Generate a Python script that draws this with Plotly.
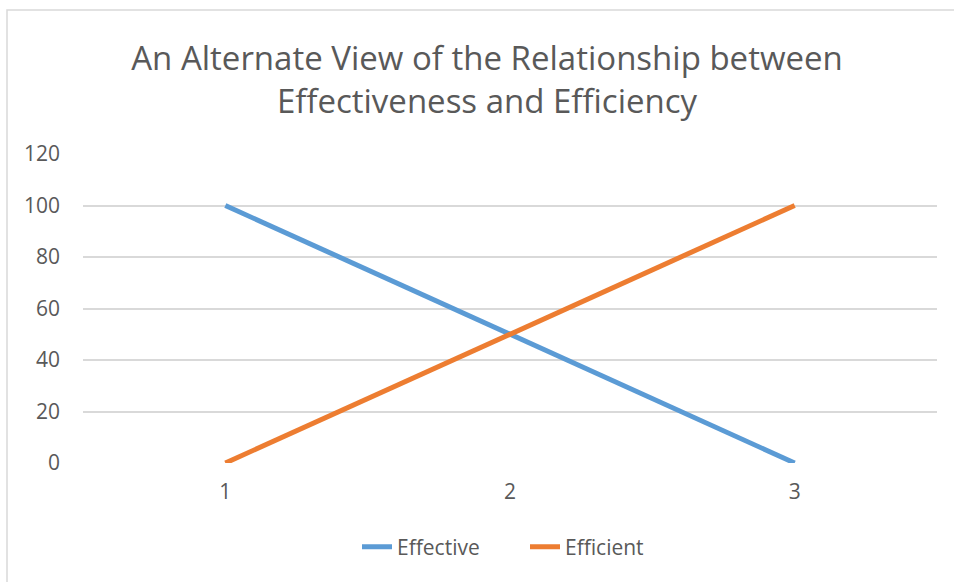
import plotly.graph_objects as go

categories = ["1", "2", "3"]
effective = [100, 50, 0]
efficient = [0, 50, 100]
y_ticks = [0, 20, 40, 60, 80, 100, 120]
title_text = "An Alternate View of the Relationship between<br>Effectiveness and Efficiency"

FONT = "'Open Sans', sans-serif"
GRAY = "#595959"

fig = go.Figure()
fig.add_trace(go.Scatter(x=categories, y=effective, mode="lines", name="Effective",
                         line=dict(color="#5B9BD5", width=5)))
fig.add_trace(go.Scatter(x=categories, y=efficient, mode="lines", name="Efficient",
                         line=dict(color="#ED7D31", width=5)))

W, H = 954, 582
L, R, T, B = 83, 17, 154, 119
pw, ph = W - L - R, H - T - B

fig.update_layout(
    width=W, height=H,
    margin=dict(l=L, r=R, t=T, b=B),
    paper_bgcolor="white", plot_bgcolor="white",
    font=dict(family=FONT, color=GRAY, size=21),
    title=dict(text=title_text, x=487 / W, xanchor="center", xref="container",
               y=1 - 70 / H, yanchor="middle", yref="container",
               font=dict(family=FONT, size=33, color=GRAY)),
    xaxis=dict(type="category", range=[-0.5, 2.5], showgrid=False, zeroline=False,
               showline=False, ticks="", ticklabelstandoff=14,
               tickfont=dict(size=21, color=GRAY)),
    yaxis=dict(range=[0, 120], tickvals=y_ticks, showgrid=True, gridcolor="#D9D9D9",
               gridwidth=1.5, zeroline=False, showline=False, ticks="",
               ticklabelstandoff=22, tickfont=dict(size=21, color=GRAY)),
    showlegend=True,
    legend=dict(orientation="h", xref="container", yref="container",
                x=357 / W, xanchor="left", y=1 - 547 / H, yanchor="middle",
                font=dict(size=21, color=GRAY), entrywidth=123,
                entrywidthmode="pixels", tracegroupgap=0),
    shapes=[dict(type="rect", xref="paper", yref="paper",
                 x0=(7 - L) / pw, x1=(W + 20 - L) / pw,
                 y0=-(H + 20 - T - ph) / ph, y1=(H - B - 10) / ph,
                 line=dict(color="#D9D9D9", width=1.5), layer="below")],
)

fig.write_html("out.html", config={"displayModeBar": False},
               post_script="document.body.style.margin='0';document.body.style.padding='0';")
